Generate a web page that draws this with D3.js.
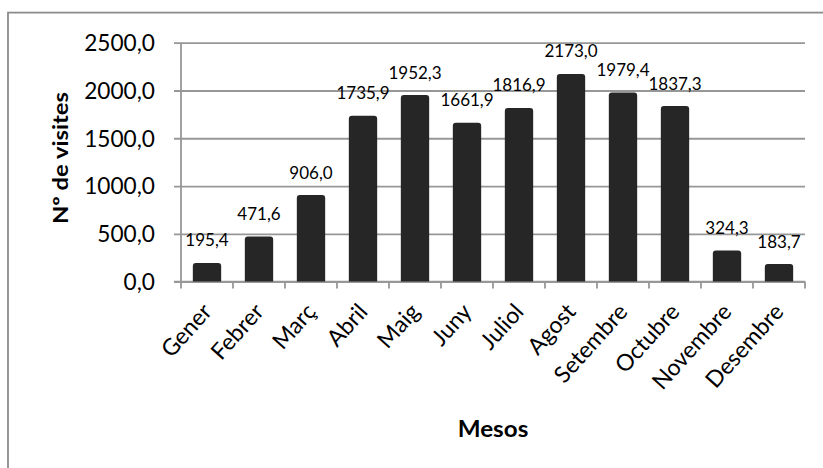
<!DOCTYPE html>
<html>
<head>
<meta charset="utf-8">
<script src="https://cdn.jsdelivr.net/npm/d3@7"></script>
<style>
  html, body { margin: 0; padding: 0; background: #ffffff; }
  svg { display: block; }
  text { font-family: Lato, "Open Sans", sans-serif; fill: #000; }
</style>
</head>
<body>
<svg id="chart" width="823" height="468"></svg>
<script>
// ---- data ----
const months = ["Gener", "Febrer", "Març", "Abril", "Maig", "Juny", "Juliol", "Agost", "Setembre", "Octubre", "Novembre", "Desembre"];
const visits = [195.4, 471.6, 906.0, 1735.9, 1952.3, 1661.9, 1816.9, 2173.0, 1979.4, 1837.3, 324.3, 183.7];
const yTicks = [0, 500, 1000, 1500, 2000, 2500];
const yTitle = "Nº de visites";
const xTitle = "Mesos";

// ---- layout ----
const W = 823, H = 468;
const plot = { left: 181, right: 805, top: 42.7, bottom: 281.6 };
const gridColor = "#979797";
const fmt = v => v.toFixed(1).replace(".", ",");

const svg = d3.select("#chart");
svg.append("rect").attr("width", W).attr("height", H).attr("fill", "#fff");

// outer frame
svg.append("rect")
  .attr("x", 8).attr("y", 12.6)
  .attr("width", W + 20).attr("height", H + 20)
  .attr("fill", "none").attr("stroke", "#8c8c8c").attr("stroke-width", 1.8);

const x = d3.scaleBand().domain(months)
  .range([plot.left, plot.right])
  .paddingInner(0.455).paddingOuter(0.2275);
const y = d3.scaleLinear().domain([0, 2500]).range([plot.bottom, plot.top]);

// gridlines + y ticks
const yAxis = d3.axisLeft(y).tickValues(yTicks).tickSize(-(plot.right - plot.left)).tickFormat("");
const gy = svg.append("g").attr("transform", `translate(${plot.left},0)`).call(yAxis);
gy.select(".domain").remove();
gy.selectAll(".tick line")
  .attr("x1", -7)
  .attr("stroke", gridColor).attr("stroke-width", 1.8);

// y axis line
svg.append("line")
  .attr("x1", plot.left).attr("x2", plot.left)
  .attr("y1", plot.top).attr("y2", plot.bottom)
  .attr("stroke", gridColor).attr("stroke-width", 1.8);

// y tick labels
svg.append("g").selectAll("text").data(yTicks).join("text")
  .attr("transform", d => `translate(155,${y(d)}) scale(1.03,1.05)`)
  .attr("text-anchor", "end")
  .attr("dy", "0.36em")
  .style("font-size", "22px")
  .text(d => fmt(d));

// x axis line & ticks between categories
const step = x.step();
const tickXs = d3.range(months.length + 1).map(i => plot.left + i * step);
svg.append("line")
  .attr("x1", plot.left - 7).attr("x2", plot.right)
  .attr("y1", plot.bottom).attr("y2", plot.bottom)
  .attr("stroke", gridColor).attr("stroke-width", 1.8);
svg.append("g").selectAll("line").data(tickXs).join("line")
  .attr("x1", d => d).attr("x2", d => d)
  .attr("y1", plot.bottom).attr("y2", plot.bottom + 7)
  .attr("stroke", gridColor).attr("stroke-width", 1.8);

// bars with rounded top corners
const r = 3;
function barPath(x0, w, yTop, yBot) {
  return `M${x0},${yBot} L${x0},${yTop + r} Q${x0},${yTop} ${x0 + r},${yTop} ` +
         `L${x0 + w - r},${yTop} Q${x0 + w},${yTop} ${x0 + w},${yTop + r} L${x0 + w},${yBot} Z`;
}
svg.append("g").selectAll("path").data(months).join("path")
  .attr("d", (m, i) => barPath(x(m), x.bandwidth(), y(visits[i]), y(0)))
  .attr("fill", "#262626");

// data labels
svg.append("g").selectAll("text").data(months).join("text")
  .attr("x", m => x(m) + x.bandwidth() / 2)
  .attr("y", (m, i) => y(visits[i]) - 16.5)
  .attr("text-anchor", "middle")
  .style("font-size", "17px")
  .text((m, i) => fmt(visits[i]));

// x tick labels rotated
svg.append("g").selectAll("text").data(months).join("text")
  .attr("transform", m => `translate(${x(m) + x.bandwidth() / 2 + 6},${plot.bottom + 31}) rotate(-48)`)
  .attr("text-anchor", "end")
  .style("font-size", "23px")
  .text(m => m);

// axis titles
svg.append("text")
  .attr("transform", "translate(493,437) scale(1.1,1.05)")
  .attr("text-anchor", "middle")
  .style("font-size", "22px").style("font-weight", "bold")
  .text(xTitle);

svg.append("text")
  .attr("transform", "translate(67.5,158) rotate(-90)")
  .attr("text-anchor", "middle")
  .attr("textLength", 132).attr("lengthAdjust", "spacingAndGlyphs")
  .style("font-size", "21px").style("font-weight", "bold")
  .text(yTitle);
</script>
</body>
</html>
